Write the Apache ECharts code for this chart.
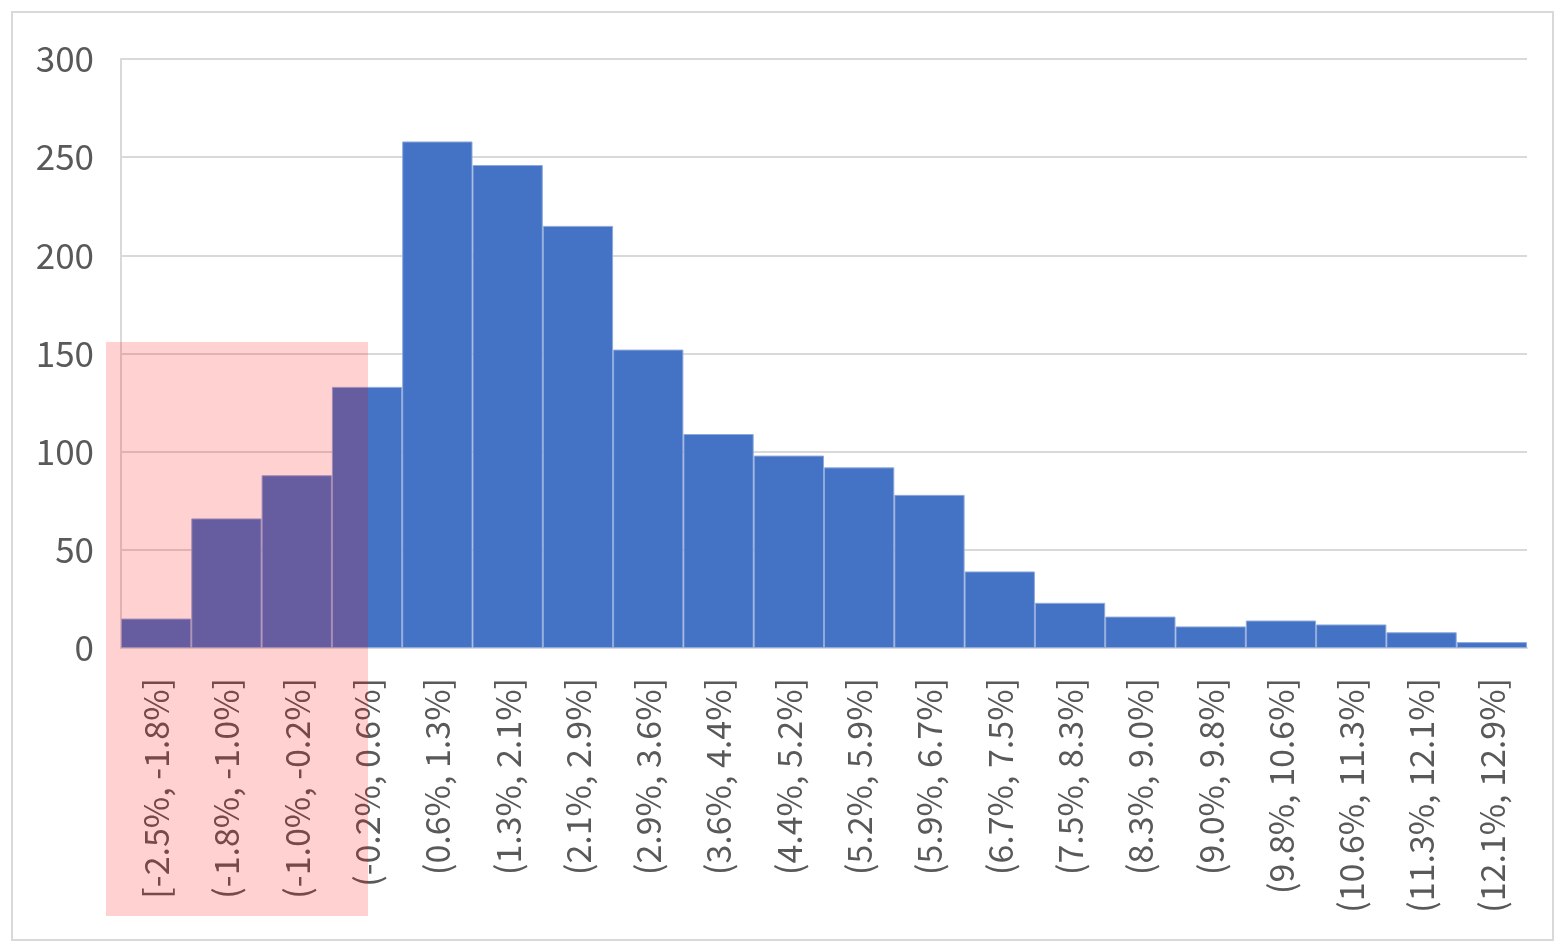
<!DOCTYPE html>
<html lang="en">
<head>
    <meta charset="UTF-8">
    <title>Histogram</title>
    <script src="https://cdn.jsdelivr.net/npm/echarts@6/dist/echarts.min.js"></script>
    <style>
        * { box-sizing: border-box; margin: 0; padding: 0; }
        body { background: #ffffff; }
        #chart-container { width: 1565px; height: 950px; }
    </style>
</head>
<body>
    <div id="chart-container"></div>

    <script type="text/javascript">
        // bins and counts
        const binLabels = [
            '[-2.5%, -1.8%]', '(-1.8%, -1.0%]', '(-1.0%, -0.2%]', '(-0.2%, 0.6%]',
            '(0.6%, 1.3%]', '(1.3%, 2.1%]', '(2.1%, 2.9%]', '(2.9%, 3.6%]',
            '(3.6%, 4.4%]', '(4.4%, 5.2%]', '(5.2%, 5.9%]', '(5.9%, 6.7%]',
            '(6.7%, 7.5%]', '(7.5%, 8.3%]', '(8.3%, 9.0%]', '(9.0%, 9.8%]',
            '(9.8%, 10.6%]', '(10.6%, 11.3%]', '(11.3%, 12.1%]', '(12.1%, 12.9%]'
        ];
        const binCounts = [15, 66, 88, 133, 258, 246, 215, 152, 109, 98, 92, 78, 39, 23, 16, 11, 14, 12, 8, 3];
        const yTicks = { min: 0, max: 300, interval: 50 };

        const fontFamily = '"Noto Sans CJK JP", "Noto Sans", sans-serif';
        const myChart = echarts.init(document.getElementById('chart-container'));

        myChart.setOption({
            animation: false,
            grid: { left: 121, right: 38, top: 59, bottom: 302 },
            xAxis: {
                type: 'category',
                data: binLabels,
                axisLine: { show: true, lineStyle: { color: '#d9d9d9', width: 2 } },
                axisTick: { show: false },
                axisLabel: {
                    rotate: 90,
                    interval: 0,
                    margin: 30,
                    color: '#595959',
                    fontSize: 34,
                    fontFamily: fontFamily
                }
            },
            yAxis: {
                type: 'value',
                min: yTicks.min,
                max: yTicks.max,
                interval: yTicks.interval,
                axisLine: { show: true, lineStyle: { color: '#d9d9d9', width: 2 } },
                axisTick: { show: false },
                splitLine: { lineStyle: { color: '#d9d9d9', width: 2 } },
                axisLabel: {
                    margin: 27,
                    color: '#595959',
                    fontSize: 35,
                    fontFamily: fontFamily
                }
            },
            series: [{
                type: 'bar',
                data: binCounts,
                barCategoryGap: 0,
                itemStyle: {
                    color: '#4472c4',
                    borderColor: '#8faadc',
                    borderWidth: 1
                }
            }],
            graphic: [
                // outer chart border
                {
                    type: 'rect',
                    z: 0,
                    shape: { x: 12, y: 12, width: 1541, height: 928 },
                    style: { fill: 'none', stroke: '#d9d9d9', lineWidth: 2 }
                },
                // translucent highlight over the negative-return bins
                {
                    type: 'rect',
                    z: 100,
                    shape: { x: 106, y: 342, width: 262, height: 574 },
                    style: { fill: 'rgba(255, 0, 0, 0.18)' }
                }
            ]
        });
    </script>
</body>
</html>
